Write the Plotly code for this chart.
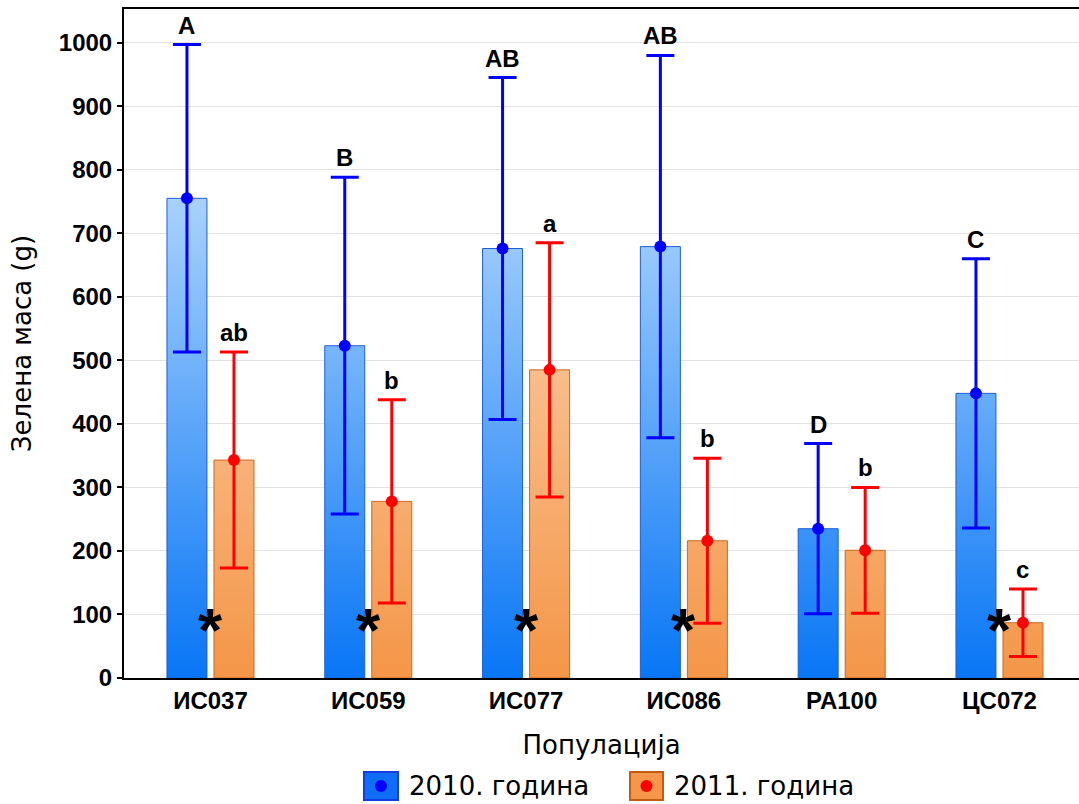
import plotly.graph_objects as go

# ---------------- data ----------------
categories = ["ИС037", "ИС059", "ИС077", "ИС086", "РА100", "ЦС072"]
series_names = ["2010. година", "2011. година"]
mean_2010 = [755, 523, 676, 679, 235, 448]
err_2010 = [242, 265, 269, 301, 134, 212]
mean_2011 = [343, 278, 485, 216, 201, 87]
err_2011 = [170, 160, 200, 130, 99, 53]
letters_2010 = ["A", "B", "AB", "AB", "D", "C"]
letters_2011 = ["ab", "b", "a", "b", "b", "c"]
signif = ["*", "*", "*", "*", "", "*"]
y_ticks = [0, 100, 200, 300, 400, 500, 600, 700, 800, 900, 1000]

# ---------------- style ----------------
BOLD = "Liberation Sans, Arial, sans-serif"
WIDE = "DejaVu Sans, sans-serif"
W, H = 1079, 804
ML, MR, MT, MB = 124, 0, 9, 126
PW, PH = W - ML - MR, H - MT - MB
YMAX = 1053
BAR_W = 0.2535
OFF = 0.149

blue_scale = [[0, "rgb(8,118,245)"], [1, "rgb(232,246,255)"]]
orange_scale = [[0, "rgb(244,150,72)"], [1, "rgb(253,236,218)"]]
blue_edge = "rgb(30,95,215)"
orange_edge = "rgb(200,105,30)"
blue_err = "rgb(0,0,255)"
red_err = "rgb(255,0,0)"

fig = go.Figure()

def add_bars(means, shift, scale, edge):
    for i, v in enumerate(means):
        c = i + shift
        x0, x1 = c - BAR_W / 2, c + BAR_W / 2
        fig.add_trace(go.Scatter(
            x=[x0, x0, x1, x1, x0], y=[0, v, v, 0, 0],
            mode="lines", fill="toself",
            line=dict(color=edge, width=1),
            fillgradient=dict(type="vertical", colorscale=scale, start=0, stop=YMAX),
            showlegend=False, hoverinfo="skip"))

add_bars(mean_2010, -OFF, blue_scale, blue_edge)
add_bars(mean_2011, OFF, orange_scale, orange_edge)

def add_points(means, errs, shift, color, name):
    fig.add_trace(go.Scatter(
        x=[i + shift for i in range(len(means))], y=means,
        mode="markers", name=name,
        marker=dict(color=color, size=12),
        error_y=dict(type="data", array=errs, color=color, thickness=3, width=14),
        showlegend=False))

add_points(mean_2010, err_2010, -OFF, blue_err, series_names[0])
add_points(mean_2011, err_2011, OFF, red_err, series_names[1])

# group letters and significance stars
for i in range(len(categories)):
    for shift, m, e, lab in ((-OFF, mean_2010[i], err_2010[i], letters_2010[i]),
                             (OFF, mean_2011[i], err_2011[i], letters_2011[i])):
        fig.add_annotation(x=i + shift, y=m + e, text=lab, showarrow=False,
                           yanchor="bottom", yshift=4,
                           font=dict(family=BOLD, size=24, color="black", weight="bold"))
    if signif[i]:
        fig.add_annotation(x=i, y=0, text=signif[i], showarrow=False,
                           yanchor="bottom", yshift=12,
                           font=dict(family=BOLD, size=62, color="black", weight="bold"))

# manual legend
def px_x(px):
    return (px - ML) / PW

def px_y(py):
    return (H - MB - py) / PH

legend_items = [
    (364, 398, "rgb(15,110,245)", "rgb(20,60,230)", blue_err, series_names[0]),
    (630, 663, "rgb(245,150,75)", "rgb(190,92,20)", red_err, series_names[1]),
]
for x0, x1, fillc, linec, dotc, txt in legend_items:
    fig.add_shape(type="rect", xref="paper", yref="paper",
                  x0=px_x(x0), x1=px_x(x1), y0=px_y(800), y1=px_y(772),
                  fillcolor=fillc, line=dict(color=linec, width=2))
    cx = (x0 + x1) / 2
    fig.add_shape(type="circle", xref="paper", yref="paper",
                  x0=px_x(cx - 6), x1=px_x(cx + 6), y0=px_y(792), y1=px_y(780),
                  fillcolor=dotc, line=dict(color=dotc, width=0))
    fig.add_annotation(xref="paper", yref="paper", x=px_x(x1 + 9), y=px_y(786),
                       xanchor="left", yanchor="middle", text=txt, showarrow=False,
                       font=dict(family=WIDE, size=26, color="black"))

fig.update_layout(
    width=W, height=H,
    margin=dict(l=ML, r=MR, t=MT, b=MB, autoexpand=False),
    paper_bgcolor="white", plot_bgcolor="white",
    showlegend=False,
    font=dict(family=BOLD, color="black"),
    xaxis=dict(
        range=[-0.548, 5.504], automargin=False,
        tickmode="array", tickvals=list(range(len(categories))), ticktext=categories,
        tickfont=dict(family=BOLD, size=24, color="black", weight="bold"),
        showline=True, linecolor="black", linewidth=2, mirror=True,
        showgrid=False, zeroline=False, ticks="",
        title=dict(text="Популација", font=dict(family=WIDE, size=26, color="black"), standoff=23),
    ),
    yaxis=dict(
        range=[0, YMAX], automargin=False,
        tickmode="array", tickvals=y_ticks,
        tickfont=dict(family=BOLD, size=24, color="black", weight="bold"),
        showline=True, linecolor="black", linewidth=2,
        ticks="outside", ticklen=5, tickwidth=2, tickcolor="black",
        showgrid=True, gridcolor="rgb(226,226,226)", gridwidth=1,
        zeroline=False,
        title=dict(text="Зелена маса (g)", font=dict(family=WIDE, size=26, color="black"), standoff=20),
    ),
)

fig.write_html("out.html",
               config={"displayModeBar": False},
               post_script="document.body.style.margin='0';document.body.style.overflow='hidden';")
